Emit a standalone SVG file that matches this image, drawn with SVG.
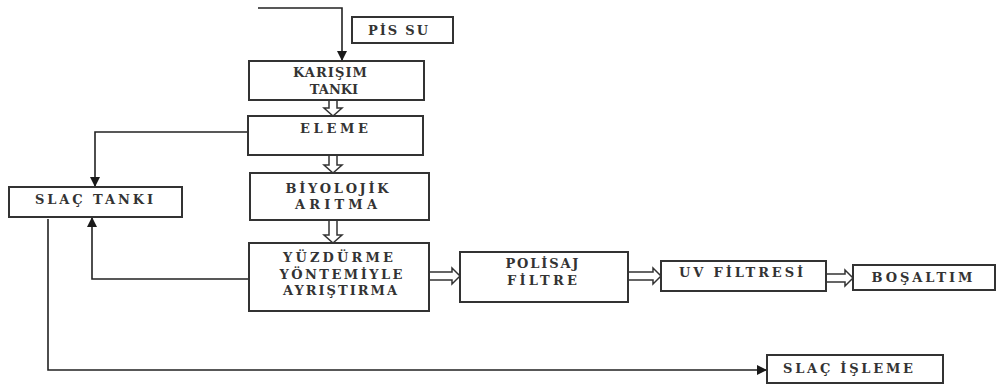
<svg xmlns="http://www.w3.org/2000/svg" width="997" height="386" viewBox="0 0 997 386">
<defs>
<marker id="ah" viewBox="0 0 10 10" refX="10" refY="5" markerWidth="10" markerHeight="10" markerUnits="userSpaceOnUse" orient="auto">
<path d="M0,0 L10,5 L0,10 Z" fill="#1a1a1a"/>
</marker>
<style>
.box{fill:#fff;stroke:#333;stroke-width:2}
.t{font-family:"DejaVu Serif","Liberation Serif",serif;font-weight:bold;font-size:13px;fill:#333;text-anchor:middle}
.ln{fill:none;stroke:#222;stroke-width:1.6}
.ha{fill:#fff;stroke:#333;stroke-width:1.5}
</style>
</defs>
<rect width="997" height="386" fill="#fff"/>
<g id="connectors">
<polyline class="ln" points="258,8 342,8 342,61" marker-end="url(#ah)"/>
<polyline class="ln" points="248,132 95,132 95,187" marker-end="url(#ah)"/>
<polyline class="ln" points="249,279 92,279 92,217" marker-end="url(#ah)"/>
<polyline class="ln" points="48,219 48,370 767,370" marker-end="url(#ah)"/>
<path class="ha" d="M329,100 L329,108 L324,108 L333,116 L342,108 L337,108 L337,100"/>
<path class="ha" d="M329,155 L329,165 L324,165 L333,173 L342,165 L337,165 L337,155"/>
<path class="ha" d="M329,220 L329,235 L324,235 L333,243 L342,235 L337,235 L337,220"/>
<path class="ha" d="M429,272 L452,272 L452,268 L460,276 L452,284 L452,280 L429,280 Z"/>
<path class="ha" d="M628,272 L653,272 L653,268 L661,276 L653,284 L653,280 L628,280 Z"/>
<path class="ha" d="M826,274 L845,274 L845,270 L853,278 L845,286 L845,282 L826,282 Z"/>
</g>
<g id="pis-su">
<rect class="box" x="352" y="17" width="101" height="26"/>
<text class="t" x="398" y="35" textLength="60" lengthAdjust="spacing">PİS SU</text>
</g>
<g id="karisim-tanki">
<rect class="box" x="249" y="61" width="175" height="39"/>
<text class="t" x="330" y="77" textLength="74" lengthAdjust="spacing">KARIŞIM</text>
<text class="t" x="334" y="94">TANKI</text>
</g>
<g id="eleme">
<rect class="box" x="248" y="116" width="175" height="39"/>
<text class="t" x="334" y="133" textLength="68" lengthAdjust="spacing">ELEME</text>
</g>
<g id="biyolojik-aritma">
<rect class="box" x="250" y="173" width="179" height="47"/>
<text class="t" x="337" y="193" textLength="103" lengthAdjust="spacing">BİYOLOJİK</text>
<text class="t" x="336" y="209" textLength="82" lengthAdjust="spacing">ARITMA</text>
</g>
<g id="yuzdurme">
<rect class="box" x="249" y="243" width="180" height="68"/>
<text class="t" x="338" y="262" textLength="110" lengthAdjust="spacing">YÜZDÜRME</text>
<text class="t" x="341" y="279" textLength="123" lengthAdjust="spacing">YÖNTEMİYLE</text>
<text class="t" x="340" y="295" textLength="114" lengthAdjust="spacing">AYRIŞTIRMA</text>
</g>
<g id="polisaj-filtre">
<rect class="box" x="460" y="252" width="168" height="50"/>
<text class="t" x="542" y="268" textLength="73" lengthAdjust="spacing">POLİSAJ</text>
<text class="t" x="542" y="285" textLength="70" lengthAdjust="spacing">FİLTRE</text>
</g>
<g id="uv-filtresi">
<rect class="box" x="661" y="261" width="165" height="30"/>
<text class="t" x="741" y="277" textLength="124" lengthAdjust="spacing">UV FİLTRESİ</text>
</g>
<g id="bosaltim">
<rect class="box" x="853" y="265" width="142" height="25"/>
<text class="t" x="922" y="282" textLength="101" lengthAdjust="spacing">BOŞALTIM</text>
</g>
<g id="slac-tanki">
<rect class="box" x="9" y="187" width="173" height="30"/>
<text class="t" x="94" y="204" textLength="118" lengthAdjust="spacing">SLAÇ TANKI</text>
</g>
<g id="slac-isleme">
<rect class="box" x="767" y="355" width="176" height="28"/>
<text class="t" x="848" y="373" textLength="130" lengthAdjust="spacing">SLAÇ İŞLEME</text>
</g>
</svg>
